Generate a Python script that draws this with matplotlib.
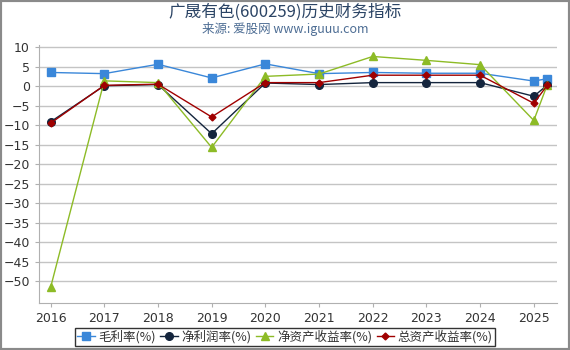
import matplotlib.pyplot as plt
from matplotlib.patches import Rectangle

plt.rcParams['font.family'] = ['DejaVu Sans', 'Noto Sans CJK SC']

# x positions (years; last point is a partial-year report)
years = [2016, 2017, 2018, 2019, 2020, 2021, 2022, 2023, 2024, 2025, 2025.25]
year_ticks = [2016, 2017, 2018, 2019, 2020, 2021, 2022, 2023, 2024, 2025]

gross_margin = [3.5, 3.2, 5.6, 2.1, 5.7, 3.2, 3.5, 3.3, 3.3, 1.3, 1.9]
net_margin = [-9.15, 0.1, 0.4, -12.2, 0.8, 0.4, 0.9, 0.9, 0.9, -2.6, 0.25]
roe = [-51.6, 1.35, 0.9, -15.7, 2.5, 3.1, 7.6, 6.6, 5.5, -8.8, 0.3]
roa = [-9.5, 0.2, 0.5, -7.9, 0.9, 0.9, 2.8, 2.8, 2.8, -4.4, 0.2]

labels = ['毛利率(%)', '净利润率(%)', '净资产收益率(%)', '总资产收益率(%)']

fig = plt.figure(figsize=(5.7, 3.5), dpi=100)
ax = fig.add_axes([0.068, 0.134, 0.909, 0.737])

ax.plot(years, gross_margin, color='#3a87d9', marker='s', markersize=5.5, lw=1, label=labels[0])
ax.plot(years, net_margin, color='#14253d', marker='o', markersize=5.5, lw=1, label=labels[1])
ax.plot(years, roe, color='#8dbb26', marker='^', markersize=6, lw=1, label=labels[2])
ax.plot(years, roa, color='#a00000', marker='D', markersize=3.5, lw=1, label=labels[3])

ax.set_xlim(2015.78, 2025.43)
ax.set_ylim(-55.6, 10.5)
ax.set_xticks(year_ticks)
ax.set_xticklabels([str(y) for y in year_ticks])
ax.set_yticks(range(-50, 11, 5))
ax.grid(axis='y', color='#c4c4c4', lw=1)
ax.set_axisbelow(True)
for s in ['top', 'right']:
    ax.spines[s].set_visible(False)
ax.spines['left'].set_color('#b0b0b0')
ax.spines['bottom'].set_color('#b0b0b0')
ax.tick_params(labelsize=9, colors='#333333', length=3, color='#b0b0b0')

fig.text(0.5, 0.965, '广晟有色(600259)历史财务指标', ha='center', va='center',
         fontsize=12, color='#2b4465', family=['Noto Sans CJK SC', 'DejaVu Sans'])
fig.text(0.5, 0.918, '来源: 爱股网 www.iguuu.com', ha='center', va='center',
         fontsize=9, color='#4d6d94', family=['Noto Sans CJK SC', 'DejaVu Sans'])

handles, labs = ax.get_legend_handles_labels()
leg = fig.legend(handles, labs, loc='upper center', bbox_to_anchor=(0.5, 0.064), ncol=4,
                 frameon=True, fancybox=False, handlelength=1.4,
                 handletextpad=0.3, columnspacing=0.35, borderpad=0.2,
                 borderaxespad=0,
                 prop={'family': ['Noto Sans CJK SC', 'DejaVu Sans'], 'size': 9})
leg.get_frame().set_edgecolor('black')
leg.get_frame().set_linewidth(1)
for t in leg.get_texts():
    t.set_color('#333333')

fig.patches.append(Rectangle((0, 0), 1, 1, transform=fig.transFigure,
                             fill=False, edgecolor='#8a8a8a', lw=3))

plt.savefig('out.png', dpi=100)
